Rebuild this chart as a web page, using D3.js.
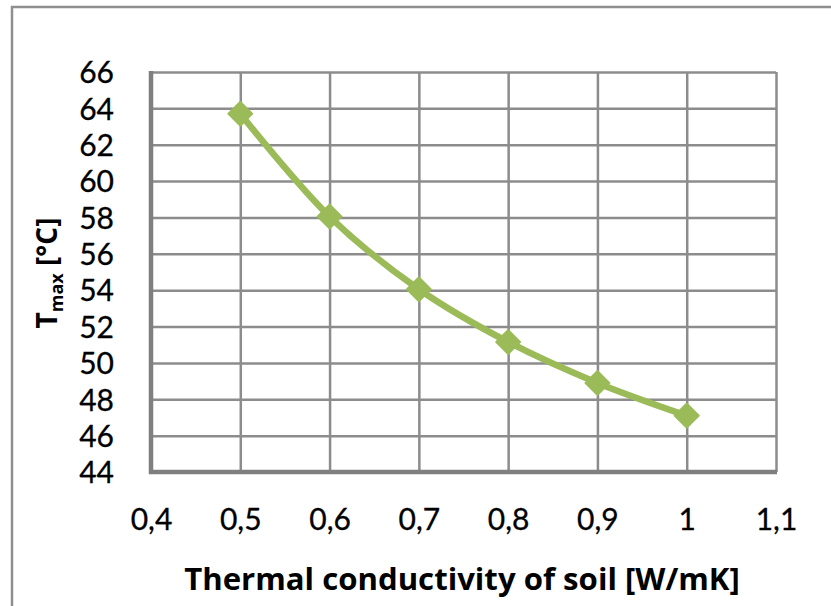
<!DOCTYPE html>
<html>
<head>
<meta charset="utf-8">
<script src="https://cdn.jsdelivr.net/npm/d3@7"></script>
<style>
  html, body { margin: 0; padding: 0; background: #fff; }
  svg { display: block; }
</style>
</head>
<body>
<svg id="chart" width="831" height="606"></svg>
<script>
// ---- data ----
const conductivity = [0.5, 0.6, 0.7, 0.8, 0.9, 1.0];
const tmax = [63.7, 58.05, 54.05, 51.15, 48.9, 47.1];
const xTicks = [0.4, 0.5, 0.6, 0.7, 0.8, 0.9, 1.0, 1.1];
const yTicks = [44, 46, 48, 50, 52, 54, 56, 58, 60, 62, 64, 66];
const xTitle = "Thermal conductivity of soil [W/mK]";

const svg = d3.select("#chart");
const W = 831, H = 606;
const plot = { left: 151, right: 776, top: 72, bottom: 472 };
const green = "#9bbb59";
const gridCol = "#8c8c8c";
const tickFont = "Lato, 'Open Sans', sans-serif";
const titleFont = "'Open Sans', Lato, sans-serif";

// outer frame
svg.append("rect")
  .attr("x", 12).attr("y", 7)
  .attr("width", W + 20).attr("height", H + 20)
  .attr("fill", "#fff").attr("stroke", "#8f8f8f").attr("stroke-width", 2.5);

const x = d3.scaleLinear().domain([0.4, 1.1]).range([plot.left, plot.right]);
const y = d3.scaleLinear().domain([44, 66]).range([plot.bottom, plot.top]);

// gridlines via axes
const gx = svg.append("g").attr("transform", `translate(0,${plot.bottom})`)
  .call(d3.axisBottom(x).tickValues(xTicks).tickSize(-(plot.bottom - plot.top)).tickFormat(""));
gx.select(".domain").remove();
gx.selectAll("line").attr("stroke", gridCol).attr("stroke-width", 2.5);

const gy = svg.append("g").attr("transform", `translate(${plot.left},0)`)
  .call(d3.axisLeft(y).tickValues(yTicks).tickSize(-(plot.right - plot.left)).tickFormat(""));
gy.select(".domain").remove();
gy.selectAll("line").attr("stroke", gridCol).attr("stroke-width", 2.5);

// axis lines (thicker left & bottom)
svg.append("line").attr("x1", plot.left).attr("x2", plot.left)
  .attr("y1", plot.top - 1).attr("y2", plot.bottom + 2)
  .attr("stroke", "#7f7f7f").attr("stroke-width", 4.5);
svg.append("line").attr("x1", plot.left - 2).attr("x2", plot.right + 1)
  .attr("y1", plot.bottom).attr("y2", plot.bottom)
  .attr("stroke", "#7f7f7f").attr("stroke-width", 4.5);

// tick labels
const xl = svg.append("g").attr("transform", `translate(0,${plot.bottom})`)
  .call(d3.axisBottom(x).tickValues(xTicks).tickSize(0).tickPadding(0)
    .tickFormat(d => d3.format(".1~f")(d).replace(".", ",")));
xl.select(".domain").remove();
xl.selectAll("text").attr("y", 58).attr("dy", 0)
  .attr("font-family", tickFont).attr("font-size", 30).attr("fill", "#000")
  .attr("stroke", "#000").attr("stroke-width", 0.3);

const yl = svg.append("g").attr("transform", `translate(114,0)`)
  .call(d3.axisLeft(y).tickValues(yTicks).tickSize(0).tickPadding(0).tickFormat(d3.format("d")));
yl.select(".domain").remove();
yl.selectAll("text").attr("x", 0).attr("dy", "0.36em")
  .attr("font-family", tickFont).attr("font-size", 30).attr("fill", "#000")
  .attr("stroke", "#000").attr("stroke-width", 0.3);

// line
const pts = conductivity.map((c, i) => [x(c), y(tmax[i])]);
svg.append("path")
  .attr("d", d3.line().curve(d3.curveCatmullRom.alpha(0.5))(pts))
  .attr("fill", "none").attr("stroke", green).attr("stroke-width", 6.5)
  .attr("stroke-linejoin", "round");

// markers
svg.append("g").selectAll("path").data(pts).join("path")
  .attr("d", d3.symbol(d3.symbolSquare, 300)())
  .attr("transform", d => `translate(${d[0]},${d[1]}) rotate(45)`)
  .attr("fill", green).attr("stroke", green).attr("stroke-width", 1.5)
  .attr("stroke-linejoin", "round");

// axis titles
const xt = svg.append("text")
  .attr("x", 462).attr("y", 590)
  .attr("text-anchor", "middle")
  .attr("font-family", titleFont).attr("font-weight", "bold").attr("font-size", 28)
  .attr("fill", "#000")
  .text(xTitle);
// fit to the reference width
const xw = xt.node().getComputedTextLength();
xt.attr("font-size", 28 * 556 / xw);

const yt = svg.append("text")
  .attr("transform", `translate(57,${(plot.top + plot.bottom) / 2 + 1}) rotate(-90)`)
  .attr("text-anchor", "middle")
  .attr("font-family", titleFont).attr("font-weight", "bold").attr("font-size", 28)
  .attr("fill", "#000");
yt.append("tspan").text("T");
yt.append("tspan").attr("font-size", 18).attr("dy", 6).text("max");
yt.append("tspan").attr("dy", -6).text(" [°C]");
</script>
</body>
</html>
